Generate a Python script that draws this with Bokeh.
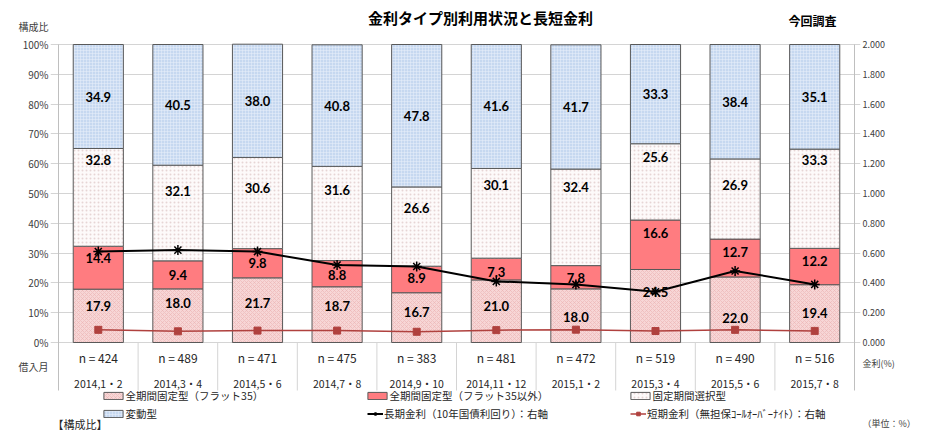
import numpy as np
from bokeh.plotting import figure
from bokeh.models import (Range1d, LinearAxis, FixedTicker, NumeralTickFormatter,
                          PrintfTickFormatter, Legend, LegendItem, ColumnDataSource)
from bokeh.core.properties import value
from bokeh.embed import file_html
from bokeh.resources import INLINE

# ---------------- data ----------------
periods = ["2014,1・2", "2014,3・4", "2014,5・6", "2014,7・8", "2014,9・10",
           "2014,11・12", "2015,1・2", "2015,3・4", "2015,5・6", "2015,7・8"]
n_counts = [424, 489, 471, 475, 383, 481, 472, 519, 490, 516]
flat35 = [17.9, 18.0, 21.7, 18.7, 16.7, 21.0, 18.0, 24.5, 22.0, 19.4]
flat_other = [14.4, 9.4, 9.8, 8.8, 8.9, 7.3, 7.8, 16.6, 12.7, 12.2]
fixed_period = [32.8, 32.1, 30.6, 31.6, 26.6, 30.1, 32.4, 25.6, 26.9, 33.3]
variable = [34.9, 40.5, 38.0, 40.8, 47.8, 41.6, 41.7, 33.3, 38.4, 35.1]
long_rate = [0.61, 0.62, 0.61, 0.52, 0.51, 0.41, 0.39, 0.34, 0.48, 0.39]
short_rate = [0.085, 0.075, 0.08, 0.08, 0.072, 0.083, 0.086, 0.077, 0.085, 0.078]
pct_ticks = list(range(0, 101, 10))
rate_ticks = [0.0, 0.2, 0.4, 0.6, 0.8, 1.0, 1.2, 1.4, 1.6, 1.8, 2.0]

# where the data labels sit (in %), as placed in the original chart
flat35_label_pos = [12.1, 13.1, 13.4, 12.4, 10.1, 12.1, 8.7, 16.8, 8.2, 9.9]
flat_other_label_pos = [28.5, 22.8, 26.8, 22.8, 21.5, 23.8, 21.5, 36.9, 30.4, 27.2]
fixed_period_label_pos = [61.1, 51.0, 51.7, 51.3, 45.3, 53.0, 52.3, 62.4, 53.0, 61.1]

series_names = ["全期間固定型（フラット35）", "全期間固定型（フラット35以外）", "固定期間選択型", "変動型"]
long_name = "長期金利（10年国債利回り）：右軸"
short_name = "短期金利（無担保ｺｰﾙｵｰﾊﾞｰﾅｲﾄ）：右軸"

JP = "Noto Sans CJK JP"
NUM = "Lato"

# ---------------- geometry (canvas pixels) ----------------
W, H = 925, 430
FR_L, FR_R = 50, 860          # frame edges
AX_L, AX_R = 58, 854          # axis lines
Y0, Y100 = 342, 44            # 0% and 100%
PX_X = (AX_R - AX_L) / len(periods)
PX_Y = (Y0 - Y100) / 100.0


def dx(px):
    return (px - AX_L) / PX_X


def dy(py):
    return (Y0 - py) / PX_Y


TABLE_BOTTOM = dy(390)

p = figure(width=W, height=H, output_backend="svg", toolbar_location=None,
           x_range=Range1d(dx(FR_L), dx(FR_R)), y_range=Range1d(dy(H), dy(0)),
           x_axis_location=None, min_border_left=FR_L, min_border_right=W - FR_R,
           min_border_top=0, min_border_bottom=0)
p.outline_line_color = None
p.xgrid.visible = False

# left axis (labels only; gridlines act as ticks)
left_extra = {106: "構成比", -8: "借入月"}
ax = p.yaxis[0]
ax.ticker = FixedTicker(ticks=pct_ticks + list(left_extra.keys()))
ax.formatter = PrintfTickFormatter(format="%d%%")
ax.major_label_overrides = left_extra
ax.major_label_text_font = JP
ax.major_label_text_font_size = "10px"
ax.major_label_text_color = "#404040"
ax.axis_line_color = None
ax.major_tick_line_color = None
ax.minor_tick_line_color = None
ax.major_tick_out = 0
ax.major_tick_in = 0
ax.major_label_standoff = 2
p.ygrid.ticker = FixedTicker(ticks=pct_ticks)
p.ygrid.grid_line_color = "#D4D4D4"

# right axis
p.extra_y_ranges = {"rate": Range1d(dy(H) * 0.02, dy(0) * 0.02)}
right_extra = {round(dy(363) * 0.02, 3): "金利(%)", round(dy(423) * 0.02, 3): "（単位：%）"}
rax = LinearAxis(y_range_name="rate", ticker=FixedTicker(ticks=rate_ticks + list(right_extra.keys())),
                 formatter=NumeralTickFormatter(format="0.000"))
rax.major_label_overrides = right_extra
rax.major_label_text_font = JP
rax.major_label_text_font_size = "9px"
rax.major_label_text_color = "#404040"
rax.axis_line_color = None
rax.major_tick_line_color = None
rax.minor_tick_line_color = None
rax.major_tick_out = 0
rax.major_tick_in = 0
rax.major_label_standoff = 2
p.add_layout(rax, "right")

# axis lines running down through the table
p.segment(x0=[0, len(periods)], y0=[TABLE_BOTTOM] * 2, x1=[0, len(periods)], y1=[100, 100],
          line_color="#BFBFBF", line_width=1)
p.segment(x0=np.arange(1, len(periods)), y0=TABLE_BOTTOM, x1=np.arange(1, len(periods)), y1=0,
          line_color="#D4D4D4", line_width=1)

# ---------------- bars ----------------
x = np.arange(len(periods)) + 0.5
vals = [np.array(flat35), np.array(flat_other), np.array(fixed_period), np.array(variable)]
styles = [
    dict(fill_color="#F7D6D6", hatch_pattern="x", hatch_color="#EBB3B3", hatch_scale=4, hatch_weight=0.6),
    dict(fill_color="#FF7C80"),
    dict(fill_color="#FDFAFA", hatch_pattern=".", hatch_color="#E6D5D5", hatch_scale=4, hatch_weight=0.8),
    dict(fill_color="#C6D8F0", hatch_pattern="+", hatch_color="#E4ECF8", hatch_scale=3, hatch_weight=0.6),
]
label_pos = [np.array(flat35_label_pos), np.array(flat_other_label_pos),
             np.array(fixed_period_label_pos), None]
BAR_W = 0.63
bottom = np.zeros(len(periods))
bar_renderers = []
label_sources = []
for v, st, lp in zip(vals, styles, label_pos):
    top = bottom + v
    mid = (bottom + top) / 2 if lp is None else lp
    src = ColumnDataSource(dict(x=x, bottom=bottom, top=top, mid=mid,
                                lab=[f"{a:.1f}" for a in v]))
    r = p.vbar(x="x", width=BAR_W, bottom="bottom", top="top", source=src,
               line_color="#595959", line_width=1, **st)
    bar_renderers.append(r)
    label_sources.append(src)
    bottom = top

# ---------------- lines ----------------
lr = p.line(x, long_rate, y_range_name="rate", line_color="black", line_width=2)
lm = p.scatter(x, long_rate, y_range_name="rate", marker="asterisk", size=10,
               line_color="black", line_width=1.5)
sr = p.line(x, short_rate, y_range_name="rate", line_color="#B0413E", line_width=1.5)
sm = p.scatter(x, short_rate, y_range_name="rate", marker="square", size=7,
               fill_color="#B0413E", line_color="#B0413E")

# value labels on top of everything
for src in label_sources:
    p.text(x="x", y="mid", text="lab", source=src, text_font=value(NUM),
           text_font_style="bold", text_font_size="13px", text_color="black",
           text_align="center", text_baseline="middle")

# ---------------- table under bars ----------------
p.text(x=x, y=[dy(357)] * len(x), text=[f"n = {n}" for n in n_counts],
       text_font=value(JP), text_font_size="12px", text_color="#262626",
       text_align="center", text_baseline="middle")
p.text(x=x, y=[dy(383)] * len(x), text=periods,
       text_font=value(JP), text_font_size="10.5px", text_color="#262626",
       text_align="center", text_baseline="middle")


def lab(text, px, py, size="12px", align="center", style="normal", color="#262626"):
    p.text(x=[dx(px)], y=[dy(py)], text=[text], text_font=value(JP), text_font_size=size,
           text_align=align, text_baseline="middle", text_font_style=style, text_color=color)


lab("金利タイプ別利用状況と長短金利", 480, 17, size="15px", style="bold", color="black")
lab("今回調査", 812, 20, size="12px", style="bold", color="black")
lab("【構成比】", 52, 423, size="11px", align="left")


# ---------------- legend ----------------
def add_legend(label, renderers, px_left, py_center, gw):
    lg = Legend(items=[LegendItem(label=label, renderers=renderers)],
                location=(px_left - FR_L, H - (py_center + 7)),
                orientation="horizontal", padding=0, margin=0, spacing=0,
                border_line_alpha=0, background_fill_alpha=0,
                glyph_width=gw, glyph_height=9, label_height=14, label_standoff=1,
                label_text_font=JP, label_text_font_size="10.5px", label_text_color="#262626")
    p.add_layout(lg)


add_legend(series_names[0], [bar_renderers[0]], 100.6, 396, 24)
add_legend(series_names[1], [bar_renderers[1]], 364.6, 396, 24)
add_legend(series_names[2], [bar_renderers[2]], 627.6, 396, 24)
add_legend(series_names[3], [bar_renderers[3]], 100.6, 414, 24)
add_legend(long_name, [lr, lm], 367, 414, 16)
add_legend(short_name, [sr, sm], 630, 414, 16)

open("out.html", "w").write(file_html(p, INLINE))
